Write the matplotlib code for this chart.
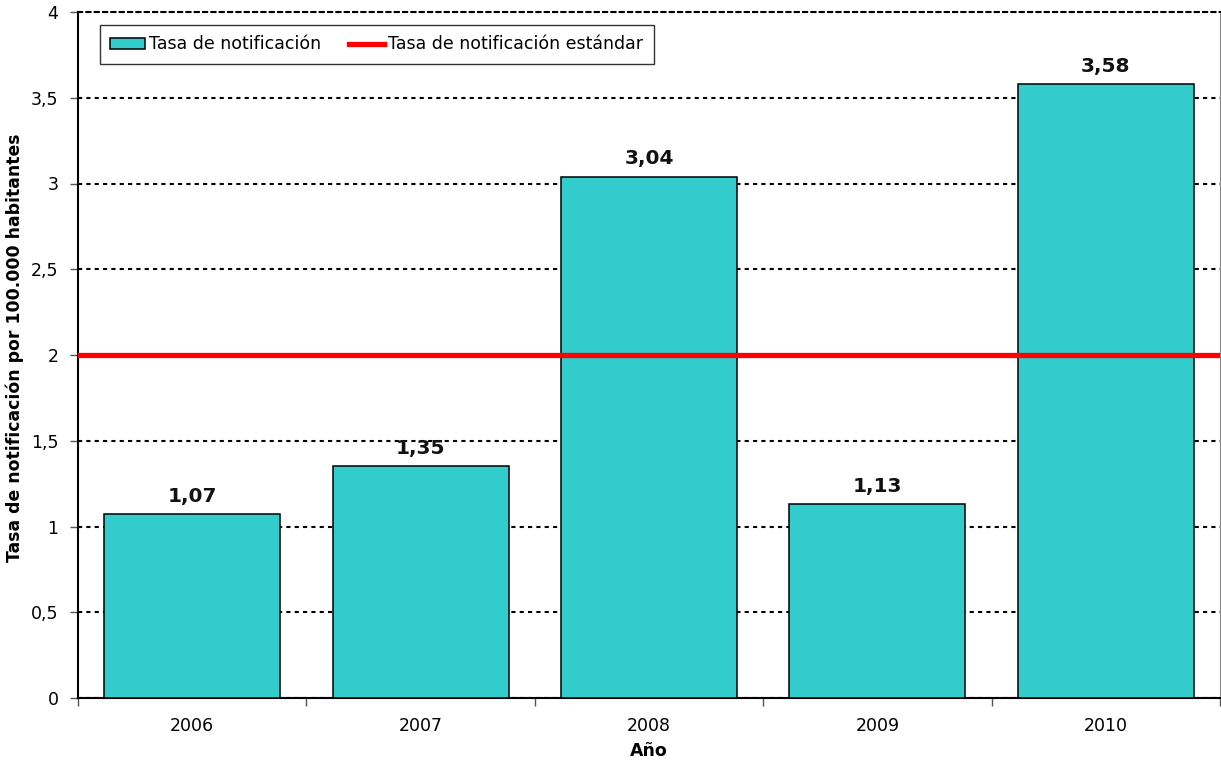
import matplotlib
matplotlib.use("Agg")
import matplotlib.pyplot as plt
from matplotlib.ticker import FixedLocator, FuncFormatter

years = ["2006", "2007", "2008", "2009", "2010"]
tasa = [1.07, 1.35, 3.04, 1.13, 3.58]
estandar = 2.0
yticks = [0, 0.5, 1, 1.5, 2, 2.5, 3, 3.5, 4]

plt.rcParams["font.family"] = "DejaVu Sans"

fig = plt.figure(figsize=(12.21, 7.62), dpi=100)
ax = fig.add_axes([78 / 1221, 1 - 698 / 762, 1142 / 1221, 686 / 762])

x = list(range(len(years)))
bars = ax.bar(x, tasa, width=0.77, color="#33CCCC", edgecolor="black",
              linewidth=1.1, label="Tasa de notificación", zorder=3)
line = ax.axhline(estandar, color="#FF0000", linewidth=3.8, zorder=4,
                  label="Tasa de notificación estándar")

for xi, v in zip(x, tasa):
    ax.annotate(f"{v:.2f}".replace(".", ","), (xi, v), xytext=(0, 6),
                textcoords="offset points", ha="center", va="bottom",
                fontsize=14.5, fontweight="bold", color="#111111", zorder=5)

ax.set_xlim(-0.5, len(years) - 0.5)
ax.set_ylim(0, 4)

# category boundaries get the tick marks, labels sit in the middle
ax.xaxis.set_major_locator(FixedLocator([i - 0.5 for i in range(len(years) + 1)]))
ax.xaxis.set_major_formatter(FuncFormatter(lambda v, p: ""))
ax.xaxis.set_minor_locator(FixedLocator(x))
ax.set_xticklabels(years, minor=True)
ax.tick_params(axis="x", which="major", direction="out", length=6, width=1, color="#555555")
ax.tick_params(axis="x", which="minor", length=0, pad=14, labelsize=12.5)

ax.set_yticks(yticks)
ax.yaxis.set_major_formatter(FuncFormatter(lambda v, p: f"{v:g}".replace(".", ",")))
ax.tick_params(axis="y", direction="out", length=6, width=1, color="#555555",
               pad=8, labelsize=12.5)

ax.grid(axis="y", color="black", linewidth=1.5, linestyle=(0, (2, 2)), zorder=1)
ax.set_axisbelow(True)

ax.spines["top"].set_linestyle((0, (2, 2)))
ax.spines["top"].set_linewidth(1.5)
ax.spines["right"].set_color("#888888")
ax.spines["right"].set_linewidth(0.8)
ax.spines["left"].set_linewidth(1.5)
ax.spines["bottom"].set_linewidth(1.5)

ax.set_xlabel("Año", fontsize=12.5, fontweight="bold", labelpad=5)
ax.set_ylabel("Tasa de notificación por 100.000 habitantes", fontsize=12.4,
              fontweight="bold", labelpad=3)
ax.yaxis.set_label_coords(-0.047, 0.51)

leg = ax.legend([bars, line], [bars.get_label(), line.get_label()],
                loc="upper left", bbox_to_anchor=(0.019, 0.981), ncol=2,
                fontsize=12.5, frameon=True, fancybox=False, borderpad=0.6,
                handlelength=2.0, handleheight=0.6, handletextpad=0.25,
                columnspacing=1.6, borderaxespad=0)
leg.get_frame().set_edgecolor("black")
leg.get_frame().set_linewidth(1)

fig.savefig("out.png", dpi=100)
